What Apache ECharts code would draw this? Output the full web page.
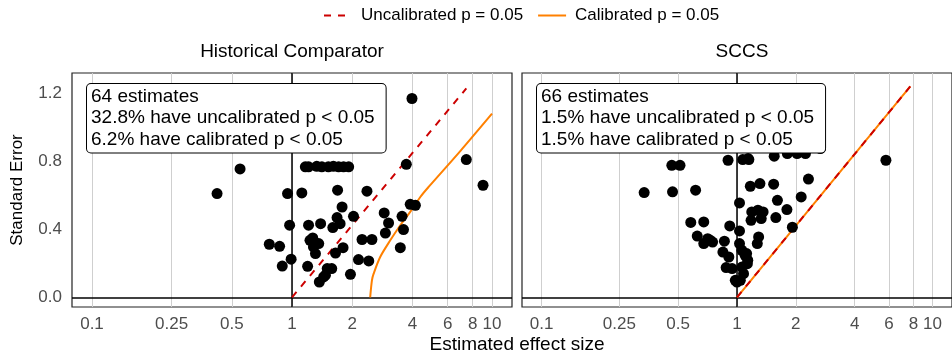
<!DOCTYPE html>
<html lang="en">
<head>
    <meta charset="UTF-8">
    <title>Effect estimates vs standard error</title>
    <script src="https://cdn.jsdelivr.net/npm/echarts@6.0.0/dist/echarts.min.js"></script>
    <style>
        body, html { margin: 0; padding: 0; background: #fff; }
        #chart { width: 952px; height: 360px; }
    </style>
</head>
<body>
<div id="chart"></div>
<script>
    // effect sizes (ratio scale) and standard errors
    const hcEffect = [3.98, 0.55, 0.422, 1.166, 1.21, 1.33, 1.41, 1.52, 1.61, 1.71, 1.81, 1.92,
        0.95, 1.12, 0.973, 1.21, 0.77, 0.867, 0.99, 0.894, 1.197, 1.27, 1.31, 1.37,
        3.73, 1.69, 2.37, 1.78, 3.9, 4.14, 2.03, 2.89, 1.68, 3.55, 3.04, 1.39, 1.60,
        3.61, 2.93, 2.24, 2.51, 3.48, 1.23, 1.28, 1.80, 1.65, 2.15, 2.42, 1.50, 1.58,
        1.96, 1.44, 1.74, 1.36, 9.02, 7.44, 1.47];
    const hcSe = [1.169, 0.755, 0.61, 0.767, 0.767, 0.77, 0.767, 0.767, 0.77, 0.767, 0.767, 0.767,
        0.61, 0.614, 0.424, 0.424, 0.312, 0.30, 0.224, 0.184, 0.182, 0.349, 0.257, 0.09,
        0.782, 0.63, 0.624, 0.531, 0.547, 0.541, 0.476, 0.496, 0.469, 0.476, 0.437, 0.433, 0.41,
        0.398, 0.378, 0.34, 0.34, 0.292, 0.335, 0.296, 0.292, 0.26, 0.222, 0.214, 0.169, 0.169,
        0.135, 0.12, 0.433, 0.316, 0.659, 0.81, 0.13];

    const sccsEffect = [0.335, 0.468, 0.614, 0.464, 0.511, 0.90, 1.07, 1.15, 1.55, 1.81, 2.03, 2.24,
        2.67, 5.78, 2.32, 1.17, 1.31, 1.54, 1.03, 1.61, 2.13, 1.19, 1.18, 1.28, 1.36, 1.33,
        1.58, 1.80, 1.92, 0.58, 0.676, 0.918, 1.03, 0.626, 0.708, 0.75, 0.676, 0.862, 1.29,
        1.27, 0.847, 0.908, 0.88, 0.944, 0.98, 1.03, 1.06, 1.10, 1.135, 1.06, 1.08, 1.04,
        1.0, 1.12, 1.13, 0.73, 1.14];
    const sccsSe = [0.616, 0.62, 0.63, 0.776, 0.776, 0.806, 0.81, 0.81, 0.83, 0.845, 0.845, 0.845,
        0.875, 0.806, 0.695, 0.653, 0.669, 0.665, 0.555, 0.57, 0.59, 0.502, 0.453, 0.512, 0.502, 0.463,
        0.469, 0.516, 0.412, 0.44, 0.443, 0.42, 0.39, 0.36, 0.345, 0.325, 0.316, 0.33, 0.355,
        0.316, 0.266, 0.237, 0.175, 0.169, 0.1, 0.316, 0.276, 0.247, 0.218, 0.178, 0.139, 0.1,
        0.09, 0.257, 0.198, 0.335, 0.816];

    // p = 0.05 boundaries
    const hcUncalEffect = [1, 7.44];
    const hcUncalSe = [0, 1.228];
    const hcCalEffect = [2.46, 2.51, 2.56, 2.76, 3.10, 3.48, 3.90, 4.38, 4.82, 6.94, 10];
    const hcCalSe = [0, 0.1, 0.139, 0.237, 0.335, 0.424, 0.502, 0.59, 0.649, 0.86, 1.08];
    const sccsUncalEffect = [1, 7.7];
    const sccsUncalSe = [0, 1.24];
    const sccsCalEffect = [1, 7.7];
    const sccsCalSe = [0, 1.24];

    const xTicks = [0.1, 0.25, 0.5, 1, 2, 4, 6, 8, 10];
    const xTickLabels = ['0.1', '0.25', '0.5', '1', '2', '4', '6', '8', '10'];
    const yTicks = [0, 0.4, 0.8, 1.2];
    const yTickLabels = ['0.0', '0.4', '0.8', '1.2'];

    const panelTitles = ['Historical Comparator', 'SCCS'];
    const panelNotes = [
        '64 estimates\n32.8% have uncalibrated p < 0.05\n6.2% have calibrated p < 0.05',
        '66 estimates\n1.5% have uncalibrated p < 0.05\n1.5% have calibrated p < 0.05'
    ];

    const UNCAL = 'Uncalibrated p = 0.05';
    const CAL = 'Calibrated p = 0.05';
    const FONT = '"Liberation Sans", Arial, sans-serif';

    const chart = echarts.init(document.getElementById('chart'));

    function pairs(xs, ys) {
        return xs.map((x, i) => [Math.log10(x), ys[i]]);
    }

    const logTicks = xTicks.map(v => Math.log10(v));

    function tickLabel(v, ticks, labels) {
        let best = 0;
        ticks.forEach((t, i) => { if (Math.abs(t - v) < Math.abs(ticks[best] - v)) best = i; });
        return labels[best];
    }

    const grids = [
        { left: 72, top: 73, width: 440, height: 234 },
        { left: 522, top: 73, width: 440, height: 234 }
    ];

    const xAxes = grids.map((g, i) => ({
        type: 'value',
        gridIndex: i,
        min: -1.1,
        max: 1.1,
        axisLine: { show: false },
        axisTick: { show: false, customValues: logTicks },
        splitLine: { show: true, lineStyle: { color: '#cfcfcf', width: 1 } },
        axisLabel: {
            customValues: logTicks,
            formatter: v => tickLabel(v, logTicks, xTickLabels),
            color: '#4d4d4d',
            fontSize: 17,
            fontFamily: FONT,
            margin: 9
        }
    }));

    const yAxes = grids.map((g, i) => ({
        type: 'value',
        gridIndex: i,
        min: -0.057,
        max: 1.319,
        axisLine: { show: false },
        axisTick: { show: false, customValues: yTicks },
        splitLine: { show: false },
        axisLabel: {
            show: i === 0,
            customValues: yTicks,
            formatter: v => tickLabel(v, yTicks, yTickLabels),
            color: '#4d4d4d',
            fontSize: 17,
            fontFamily: FONT,
            margin: 10
        },
        name: i === 0 ? 'Standard Error' : '',
        nameLocation: 'middle',
        nameGap: 46,
        nameTextStyle: { fontSize: 17, color: '#000', fontFamily: FONT }
    }));

    const panels = [
        { effect: hcEffect, se: hcSe, uE: hcUncalEffect, uS: hcUncalSe, cE: hcCalEffect, cS: hcCalSe },
        { effect: sccsEffect, se: sccsSe, uE: sccsUncalEffect, uS: sccsUncalSe, cE: sccsCalEffect, cS: sccsCalSe }
    ];

    const series = [];
    panels.forEach((p, i) => {
        series.push({
            type: 'scatter',
            xAxisIndex: i,
            yAxisIndex: i,
            data: pairs(p.effect, p.se),
            symbolSize: 11,
            itemStyle: { color: '#000', opacity: 1 },
            z: 3,
            silent: true,
            markLine: {
                silent: true,
                symbol: ['none', 'none'],
                label: { show: false },
                lineStyle: { color: '#000', type: 'solid', width: 1.5 },
                data: [{ xAxis: 0 }, { yAxis: 0 }],
                z: 1
            }
        });
        series.push({
            name: CAL,
            type: 'line',
            xAxisIndex: i,
            yAxisIndex: i,
            data: pairs(p.cE, p.cS),
            symbol: 'none',
            smooth: 0.3,
            lineStyle: { color: '#ff8000', width: 2 },
            itemStyle: { color: '#ff8000' },
            z: 2
        });
        series.push({
            name: UNCAL,
            type: 'line',
            xAxisIndex: i,
            yAxisIndex: i,
            data: pairs(p.uE, p.uS),
            symbol: 'none',
            lineStyle: { color: '#cc0000', width: 2, type: [7, 7] },
            itemStyle: { color: '#cc0000' },
            z: 2
        });
    });

    const graphics = [];
    panelTitles.forEach((t, i) => {
        graphics.push({
            type: 'text',
            x: grids[i].left + grids[i].width / 2,
            y: 52,
            style: { text: t, fontSize: 19, fontFamily: FONT, fill: '#000', align: 'center', verticalAlign: 'middle' }
        });
        graphics.push({
            type: 'text',
            x: grids[i].left + 15,
            y: 84,
            z: 10,
            style: {
                text: panelNotes[i],
                fontSize: 19,
                lineHeight: 21.5,
                fontFamily: FONT,
                fill: '#000',
                backgroundColor: '#fff',
                borderColor: '#000',
                borderWidth: 1,
                borderRadius: 4,
                padding: [2, 11, 2, 4]
            }
        });
    });
    graphics.push({
        type: 'text',
        x: 517,
        y: 345,
        style: { text: 'Estimated effect size', fontSize: 19, fontFamily: FONT, fill: '#000', align: 'center', verticalAlign: 'middle' }
    });

    chart.setOption({
        animation: false,
        legend: {
            data: [UNCAL, CAL],
            top: 2,
            left: 318,
            itemWidth: 28,
            itemHeight: 14,
            itemGap: 14,
            itemStyle: { opacity: 0 },
            textStyle: { fontSize: 17, color: '#000', fontFamily: FONT, padding: [0, 0, 0, 4] }
        },
        grid: grids.map(g => Object.assign({ show: true, borderColor: '#222', borderWidth: 1.2, backgroundColor: 'transparent' }, g)),
        xAxis: xAxes,
        yAxis: yAxes,
        series: series,
        graphic: graphics
    });
</script>
</body>
</html>
